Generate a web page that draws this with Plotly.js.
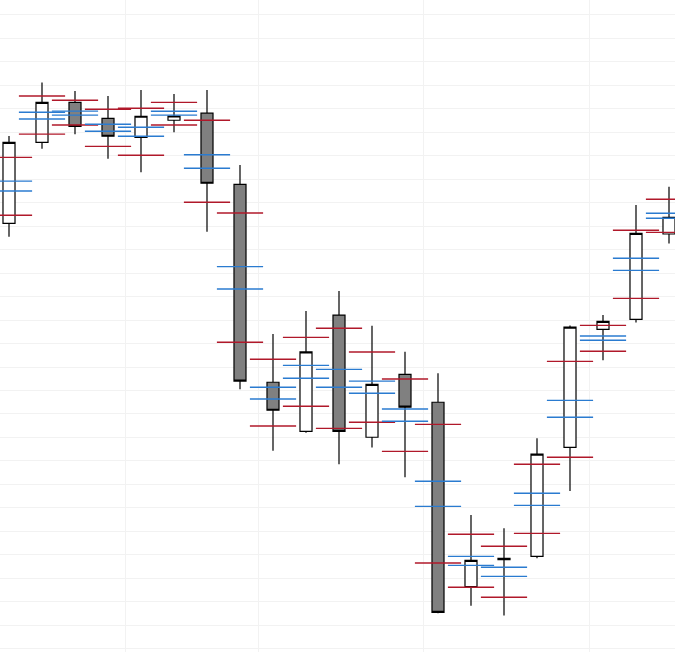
<!DOCTYPE html>
<html>
<head>
<meta charset="utf-8">
<script src="https://cdn.plot.ly/plotly-3.0.1.min.js"></script>
<style>html,body{margin:0;padding:0;background:#fff;}#chart{width:675px;height:652px;}</style>
</head>
<body>
<div id="chart"></div>
<script>
// Session index (one candle per trading session)
const sessions = [0,1,2,3,4,5,6,7,8,9,10,11,12,13,14,15,16,17,18,19,20];

const openVals  = [118.11,121.56,123.26,122.58,121.77,122.50,122.80,119.77,111.35,109.26,114.21,109.01,111.69,110.50,102.65,103.80,103.94,108.58,113.60,114.03,117.66];
const highVals  = [121.83,124.11,123.74,123.53,123.79,123.62,123.79,120.60,113.40,114.38,115.23,113.76,112.65,111.73,105.70,105.14,108.97,113.77,114.21,118.89,119.67];
const lowVals   = [117.54,121.29,121.90,120.86,120.29,121.99,117.76,111.05,108.44,109.20,107.86,108.57,107.31,101.52,101.84,101.42,103.86,106.72,112.29,113.89,117.26];
const closeVals = [121.56,123.26,122.24,121.82,122.67,122.68,119.82,111.40,110.16,112.64,109.26,111.26,110.29,101.56,103.77,103.86,108.29,113.70,113.94,117.69,118.37];

// Outer levels (red)
const redUpper  = [120.92,123.53,123.35,122.97,123.01,123.26,122.50,118.55,112.33,113.26,113.65,112.64,111.49,109.56,104.88,104.37,107.86,112.24,113.77,117.82,119.14];
const redLower  = [118.46,121.91,122.30,121.39,121.01,122.30,119.01,113.05,109.49,110.33,109.39,109.65,108.41,103.66,102.63,102.20,104.92,108.16,112.67,114.92,117.73];
// Inner levels (blue)
const blueUpper = [119.91,122.84,122.89,122.33,122.20,122.88,121.03,116.27,111.14,112.07,111.90,111.40,110.21,107.14,103.94,103.48,106.63,110.58,113.32,116.63,118.54];
const blueLower = [119.49,122.55,122.72,122.03,121.82,122.72,120.46,115.32,110.64,111.52,111.14,110.88,109.69,106.07,103.56,103.09,106.11,109.86,113.14,116.11,118.33];

const gridX = [3.53,7.56,12.55,17.58];

const levelTrace = (vals, color) => ({
  type: 'scatter', mode: 'markers', x: sessions, y: vals, hoverinfo: 'skip',
  marker: {symbol: 'line-ew', size: 33, color: color, line: {color: color, width: 1.4}},
  showlegend: false
});

const data = [
  {
    type: 'candlestick', x: sessions, open: openVals, high: highVals, low: lowVals, close: closeVals,
    increasing: {line: {color: '#000000', width: 1.2}, fillcolor: '#ffffff'},
    decreasing: {line: {color: '#000000', width: 1.2}, fillcolor: '#808080'},
    whiskerwidth: 0, showlegend: false
  },
  levelTrace(redUpper, '#b0182a'),
  levelTrace(redLower, '#b0182a'),
  levelTrace(blueUpper, '#2a7bd0'),
  levelTrace(blueLower, '#2a7bd0')
];

const layout = {
  width: 675, height: 652,
  margin: {l: 0, r: 0, t: 0, b: 0, pad: 0},
  paper_bgcolor: '#ffffff', plot_bgcolor: '#ffffff',
  showlegend: false,
  boxgap: 0.636, boxgroupgap: 0,
  xaxis: {
    range: [-0.2727, 20.1818], rangeslider: {visible: false},
    tickmode: 'array', tickvals: gridX, showticklabels: false, ticks: '',
    showgrid: true, gridcolor: '#f2f2f2', gridwidth: 1, zeroline: false, showline: false
  },
  yaxis: {
    range: [99.872, 127.617], tick0: 100, dtick: 1, showticklabels: false, ticks: '',
    showgrid: true, gridcolor: '#f2f2f2', gridwidth: 1, zeroline: false, showline: false
  }
};

Plotly.newPlot('chart', data, layout, {staticPlot: true, displayModeBar: false});
</script>
</body>
</html>
